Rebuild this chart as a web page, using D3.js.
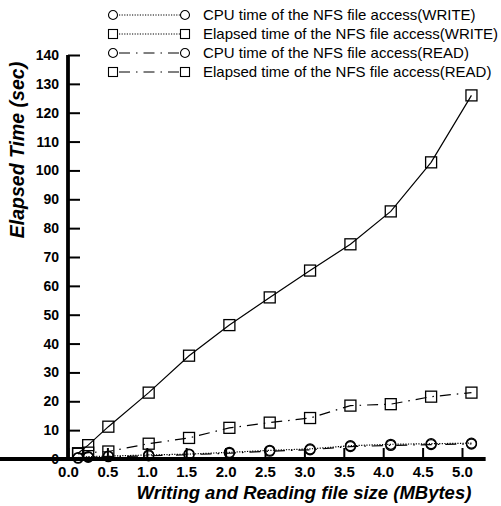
<!DOCTYPE html>
<html>
<head>
<meta charset="utf-8">
<script src="https://cdn.jsdelivr.net/npm/d3@7"></script>
<style>
  body { margin: 0; background: #fff; }
  svg { font-family: "Liberation Sans", Arial, Helvetica, sans-serif; }
</style>
</head>
<body>
<div id="app"></div>
<script>
// file sizes (MBytes)
const SIZES = [0.128, 0.256, 0.512, 1.024, 1.536, 2.048, 2.56, 3.072, 3.584, 4.096, 4.608, 5.12];
const CPU_WRITE = [0.5, 0.8, 1.0, 1.4, 1.7, 2.3, 3.0, 3.5, 4.6, 5.1, 5.3, 5.5];
const ELAPSED_WRITE = [2.0, 4.8, 11.2, 23.0, 35.8, 46.4, 56.0, 65.3, 74.4, 85.8, 102.8, 126.0];
const CPU_READ = [0.3, 0.6, 0.8, 1.1, 1.5, 2.0, 2.7, 3.2, 4.3, 4.7, 5.0, 5.2];
const ELAPSED_READ = [1.8, 2.2, 2.6, 5.3, 7.3, 10.8, 12.6, 14.2, 18.5, 19.0, 21.6, 23.0];

const X_TICKS = [0, 0.5, 1, 1.5, 2, 2.5, 3, 3.5, 4, 4.5, 5];
const Y_TICKS = [0, 10, 20, 30, 40, 50, 60, 70, 80, 90, 100, 110, 120, 130, 140];

const SERIES = [
  { name: "CPU time of the NFS file access(WRITE)", values: CPU_WRITE, shape: "circle", dash: "1.2,1.4", legendDash: "1.2,1.4" },
  { name: "Elapsed time of the NFS file access(WRITE)", values: ELAPSED_WRITE, shape: "square", dash: null, legendDash: "1.2,1.4" },
  { name: "CPU time of the NFS file access(READ)", values: CPU_READ, shape: "circle", dash: "11,6,1.5,6", legendDash: "11,6,1.5,6" },
  { name: "Elapsed time of the NFS file access(READ)", values: ELAPSED_READ, shape: "square", dash: "11,6,1.5,6", legendDash: "11,6,1.5,6" }
];

const WIDTH = 501;
const HEIGHT = 506;

const svg = d3.select("#app").append("svg")
  .attr("width", WIDTH)
  .attr("height", HEIGHT);

const x = d3.scaleLinear().domain([0, 5.3]).range([68, 68 + 5.3 * 78.8]);
const y = d3.scaleLinear().domain([0, 140]).range([459, 55]);

// axes
const xAxis = svg.append("g")
  .attr("transform", `translate(0, ${y(0)})`)
  .call(d3.axisBottom(x).tickValues(X_TICKS).tickFormat(d3.format(".1f"))
    .tickSizeInner(-11).tickSizeOuter(0).tickPadding(7));
const yAxis = svg.append("g")
  .attr("transform", `translate(${x(0)}, 0)`)
  .call(d3.axisLeft(y).tickValues(Y_TICKS)
    .tickSizeInner(-12).tickSizeOuter(0).tickPadding(9));

[xAxis, yAxis].forEach((g) => {
  g.select(".domain").attr("stroke-width", 3.8).attr("stroke", "#000");
  g.selectAll(".tick line").attr("stroke-width", 2).attr("stroke", "#000");
  g.selectAll(".tick text")
    .attr("fill", "#000")
    .style("font-size", "14px")
    .style("font-weight", "bold");
});
xAxis.selectAll(".tick text").style("font-size", "15px");
// extend y axis line to meet x axis
yAxis.select(".domain").attr("d", `M0,${y(140)}V${y(0) + 2}`);
xAxis.select(".domain").attr("d", `M-2,0H${x(5.3) - x(0) + 68}`);

// axis titles
svg.append("text")
  .attr("x", 304)
  .attr("y", 499)
  .attr("text-anchor", "middle")
  .style("font-size", "18.5px")
  .style("font-weight", "bold")
  .style("font-style", "italic")
  .text("Writing and Reading file size (MBytes)");

svg.append("text")
  .attr("transform", "translate(24, 150) rotate(-90)")
  .attr("text-anchor", "middle")
  .style("font-size", "19.5px")
  .style("font-weight", "bold")
  .style("font-style", "italic")
  .text("Elapsed Time (sec)");

// marker helper
function drawMarker(sel, shape) {
  if (shape === "circle") {
    sel.append("circle").attr("r", 5);
  } else {
    sel.append("rect").attr("x", -5.5).attr("y", -5.5).attr("width", 11).attr("height", 11);
  }
}

const line = d3.line().x((d) => x(d[0])).y((d) => y(d[1]));

// series lines and markers
SERIES.forEach((s) => {
  const pts = SIZES.map((v, i) => [v, s.values[i]]);
  svg.append("path")
    .datum(pts)
    .attr("d", line)
    .attr("fill", "none")
    .attr("stroke", "#000")
    .attr("stroke-width", 1.2)
    .attr("stroke-dasharray", s.dash);
  svg.append("g")
    .selectAll("g")
    .data(pts)
    .join("g")
    .attr("transform", (d) => `translate(${x(d[0])}, ${y(d[1])})`)
    .each(function () { drawMarker(d3.select(this), s.shape); })
    .selectAll("circle, rect")
    .attr("fill", "none")
    .attr("stroke", "#000")
    .attr("stroke-width", 1.3);
});

// legend
const LEGEND_Y0 = 15;
const LEGEND_STEP = 19;
const legend = svg.append("g")
  .selectAll("g")
  .data(SERIES)
  .join("g")
  .attr("transform", (d, i) => `translate(0, ${LEGEND_Y0 + i * LEGEND_STEP})`);

legend.append("line")
  .attr("x1", 119).attr("x2", 180)
  .attr("stroke", "#000")
  .attr("stroke-width", 1)
  .attr("stroke-dasharray", (d) => d.legendDash);

legend.each(function (d) {
  const g = d3.select(this);
  [113, 185].forEach((cx) => {
    const m = g.append("g").attr("transform", `translate(${cx}, 0)`);
    drawMarker(m, d.shape);
    m.selectAll("circle, rect").attr("fill", "#fff").attr("stroke", "#000").attr("stroke-width", 1.1)
      .attr("r", 4.5);
    m.selectAll("rect").attr("x", -4.5).attr("y", -4.5).attr("width", 9).attr("height", 9);
  });
});

legend.append("text")
  .attr("x", 203)
  .attr("y", 5)
  .style("font-size", "15px")
  .text((d) => d.name);
</script>
</body>
</html>
